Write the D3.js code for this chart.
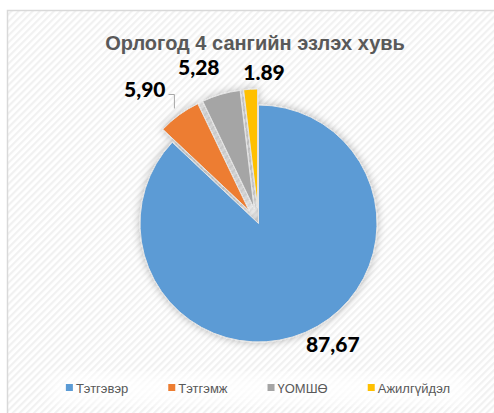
<!DOCTYPE html>
<html>
<head>
<meta charset="utf-8">
<script src="https://cdn.jsdelivr.net/npm/d3@7/dist/d3.min.js"></script>
<style>
  body { margin: 0; background: #fff; }
</style>
</head>
<body>
<script>

    var title = "Орлогод 4 сангийн эзлэх хувь";
    var categories = ["Тэтгэвэр", "Тэтгэмж", "ҮОМШӨ", "Ажилгүйдэл"];
    var values = [87.67, 5.90, 5.28, 1.89];
    var valueLabels = ["87,67", "5,90", "5,28", "1.89"];
    var colors = ["#5b9bd5", "#ed7d31", "#a5a5a5", "#ffc000"];

    var width = 494,
        height = 413,
        cx = 258.5,
        cy = 223.5,
        radius = 118.5,
        explode = 16;

    var svg = d3.select("body")
                .append("svg")
                .attr("width", width)
                .attr("height", height);

    var defs = svg.append("defs");

    var pat = defs.append("pattern")
                  .attr("id", "stripes")
                  .attr("patternUnits", "userSpaceOnUse")
                  .attr("width", 5)
                  .attr("height", 5)
                  .attr("patternTransform", "rotate(45)");
    pat.append("rect").attr("width", 5).attr("height", 5).attr("fill", "#ffffff");
    pat.append("rect").attr("width", 2.2).attr("height", 5).attr("fill", "#f1f1f1");

    var shadow = defs.append("filter")
                     .attr("id", "shadow")
                     .attr("x", "-30%").attr("y", "-30%")
                     .attr("width", "160%").attr("height", "160%");
    shadow.append("feDropShadow")
          .attr("dx", 0).attr("dy", 0)
          .attr("stdDeviation", 4)
          .attr("flood-color", "#000")
          .attr("flood-opacity", 0.28);

    var soft = defs.append("filter").attr("id", "soft");
    soft.append("feGaussianBlur").attr("stdDeviation", 8);

    // chart area
    svg.append("rect")
       .attr("x", 7.5)
       .attr("y", 10.5)
       .attr("width", 500)
       .attr("height", 420)
       .attr("fill", "url(#stripes)")
       .attr("stroke", "#d9d9d9")
       .attr("stroke-width", 1.5);

    // light glow behind legend
    svg.append("rect")
       .attr("x", 50).attr("y", 374)
       .attr("width", 420).attr("height", 30)
       .attr("rx", 12)
       .attr("fill", "#ffffff")
       .attr("opacity", 0.8)
       .attr("filter", "url(#soft)");

    svg.append("text")
       .attr("x", 255)
       .attr("y", 50)
       .attr("text-anchor", "middle")
       .attr("font-family", "Liberation Sans, Arial, sans-serif")
       .attr("font-weight", "bold")
       .attr("font-size", 20)
       .attr("fill", "#595959")
       .text(title);

    var pie = d3.pie().sort(null).value((d) => d);
    var arcs = pie(values);

    var arc = d3.arc().innerRadius(0).outerRadius(radius);

    function offset(d, i, dist) {
        var a = (d.startAngle + d.endAngle) / 2;
        var e = i == 0 ? 0 : explode;
        var r = e + dist;
        return [cx + Math.sin(a) * r, cy - Math.cos(a) * r];
    }

    var g = svg.append("g").attr("filter", "url(#shadow)");

    g.selectAll("path")
     .data(arcs)
     .enter()
     .append("path")
     .attr("d", arc)
     .attr("transform", (d, i) => "translate(" + offset(d, i, 0) + ")")
     .attr("fill", (d, i) => colors[i])
     .attr("stroke", "#e4e4e4")
     .attr("stroke-width", 1);

    // data labels
    var nudge = [[17, -12], [-19, -4], [-15, -2], [15, 9]];

    var labels = svg.selectAll(".lbl")
                    .data(arcs)
                    .enter()
                    .append("text")
                    .attr("class", "lbl")
                    .attr("x", (d, i) => offset(d, i, radius + 26)[0] + nudge[i][0])
                    .attr("y", (d, i) => offset(d, i, radius + 26)[1] + nudge[i][1])
                    .attr("dy", "0.36em")
                    .attr("text-anchor", "middle")
                    .attr("font-family", "Lato, sans-serif")
                    .attr("font-weight", 900)
                    .attr("font-size", 21)
                    .attr("fill", "#000")
                    .text((d, i) => valueLabels[i]);

    // leader line for the orange label
    var lb = labels.nodes()[1].getBBox();
    var endPt = offset(arcs[1], 1, radius + 8);
    svg.append("path")
       .attr("d", "M" + (lb.x + lb.width + 3) + "," + (lb.y + lb.height * 0.72) +
                  "H" + endPt[0] + "V" + endPt[1])
       .attr("fill", "none")
       .attr("stroke", "#a6a6a6")
       .attr("stroke-width", 1);

    // legend
    var legend = svg.append("g");
    var lx = 0;
    categories.forEach((c, i) => {
        var item = legend.append("g").attr("transform", "translate(" + lx + ",0)");
        item.append("rect")
            .attr("x", 0).attr("y", -4)
            .attr("width", 7).attr("height", 7)
            .attr("fill", colors[i]);
        var t = item.append("text")
            .attr("x", 10).attr("y", 4.5)
            .attr("font-family", "Liberation Sans, Arial, sans-serif")
            .attr("font-size", 13)
            .attr("fill", "#595959")
            .text(c);
        lx += 10 + t.node().getComputedTextLength() + 40;
    });
    var lw = lx - 40;
    legend.attr("transform", "translate(" + (258 - lw / 2) + ",388)");

</script>
</body>
</html>
